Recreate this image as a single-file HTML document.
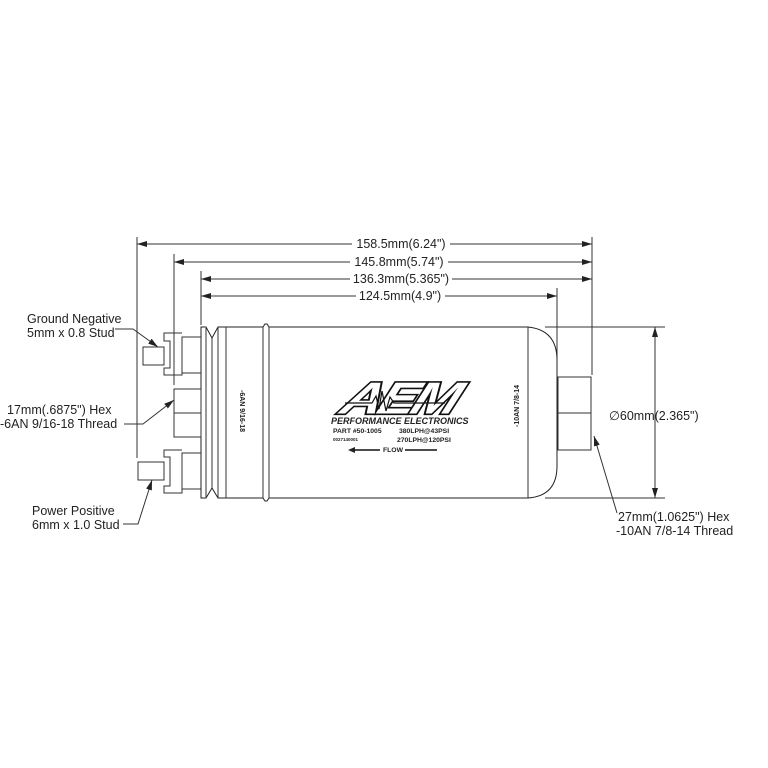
<!DOCTYPE html>
<html><head><style>body{margin:0;background:#fff}svg{display:block}</style></head><body>
<svg width="768" height="768" viewBox="0 0 768 768" xmlns="http://www.w3.org/2000/svg" font-family="Liberation Sans, sans-serif">
<defs><marker id="a" viewBox="0 0 10 6" refX="10" refY="3" markerWidth="10" markerHeight="6" orient="auto-start-reverse" markerUnits="userSpaceOnUse"><path d="M0,0L10,3L0,6z" fill="#222"/></marker></defs>
<g stroke="#333" stroke-width="1" fill="none">
<line x1="137" y1="237" x2="137" y2="458"/>
<line x1="174" y1="254" x2="174" y2="385"/>
<line x1="201" y1="271" x2="201" y2="325"/>
<line x1="557" y1="288" x2="557" y2="375"/>
<line x1="592" y1="237" x2="592" y2="375"/>
<line x1="545" y1="327" x2="665" y2="327"/>
<line x1="545" y1="498" x2="665" y2="498"/>
<line x1="137" y1="244" x2="352" y2="244" marker-start="url(#a)"/><line x1="450" y1="244" x2="592" y2="244" marker-end="url(#a)"/>
<line x1="174" y1="262" x2="350" y2="262" marker-start="url(#a)"/><line x1="448" y1="262" x2="592" y2="262" marker-end="url(#a)"/>
<line x1="201" y1="279" x2="350" y2="279" marker-start="url(#a)"/><line x1="452" y1="279" x2="592" y2="279" marker-end="url(#a)"/>
<line x1="201" y1="296" x2="356" y2="296" marker-start="url(#a)"/><line x1="445" y1="296" x2="557" y2="296" marker-end="url(#a)"/>
<line x1="655" y1="327" x2="655" y2="498" marker-start="url(#a)" marker-end="url(#a)"/>
<path d="M201,327 L206,327 L212,338 L218,327 L226,327 L263,327 L265,324 L267,324 L269,327 L528,327 L528,498 L269,498 L267,501 L265,501 L263,498 L226,498 L218,498 L212,488 L206,498 L201,498 Z" stroke="#222"/>
<line x1="528" y1="327" x2="528" y2="498"/>
<path d="M528,327 Q557,330 557,360 L557,466 Q557,496 528,498" stroke="#222"/>
<line x1="206" y1="328" x2="206" y2="497"/><line x1="212" y1="338" x2="212" y2="488"/>
<line x1="218" y1="327" x2="218" y2="498"/><line x1="226" y1="327" x2="226" y2="498"/>
<line x1="263" y1="327" x2="263" y2="498"/><line x1="269" y1="327" x2="269" y2="498"/>
<rect x="558" y="377" width="33" height="73"/><line x1="558" y1="413" x2="591" y2="413"/>
<path d="M201,337 L182,337 L182,375 L164,375 L164,368 L170,368 L170,341 L164,341 L164,333 L182,333"/>
<line x1="182" y1="373" x2="201" y2="373"/>
<rect x="143" y="347" width="21" height="18"/>
<rect x="174" y="389" width="27" height="48"/><line x1="174" y1="413" x2="201" y2="413"/>
<path d="M201,453 L182,453 L182,493 L164,493 L164,486 L170,486 L170,457 L164,457 L164,450 L182,450"/>
<line x1="182" y1="489" x2="201" y2="489"/>
<rect x="138" y="462" width="26" height="18"/>
<polyline points="115,329 133,329 158,347" marker-end="url(#a)"/>
<polyline points="124,424 143,424 174,400" marker-end="url(#a)"/>
<polyline points="123,524 138,524 152,480" marker-end="url(#a)"/>
<polyline points="617,513 594,436" marker-end="url(#a)"/>
</g>
<g fill="#222" font-size="12.5">
<text x="401" y="248" text-anchor="middle">158.5mm(6.24")</text>
<text x="399" y="266" text-anchor="middle">145.8mm(5.74")</text>
<text x="401" y="283" text-anchor="middle">136.3mm(5.365")</text>
<text x="400" y="300" text-anchor="middle">124.5mm(4.9")</text>
<text x="609" y="420">∅60mm(2.365")</text>
<text x="27" y="323">Ground Negative</text>
<text x="27" y="337">5mm x 0.8 Stud</text>
<text x="7" y="414">17mm(.6875") Hex</text>
<text x="0" y="428">-6AN 9/16-18 Thread</text>
<text x="32" y="515">Power Positive</text>
<text x="32" y="529">6mm x 1.0 Stud</text>
<text x="618" y="521">27mm(1.0625") Hex</text>
<text x="616" y="535">-10AN 7/8-14 Thread</text>
<g font-size="7" font-weight="bold">
<text transform="translate(240,390) rotate(90)">-6AN 9/16-18</text>
<text transform="translate(519,427) rotate(-90)">-10AN 7/8-14</text>
</g>
<text x="400" y="417" text-anchor="middle" font-size="56" font-weight="bold" font-style="italic" fill="#fff" stroke="#111" stroke-width="4" paint-order="stroke" transform="translate(400,400) skewX(-22) scale(1,0.8) translate(-400,-400)" letter-spacing="-4">AEM</text>
<polyline points="345,403 372,403 376,396 379,409 382,391 386,411 390,397 394,403 445,403" fill="none" stroke="#111" stroke-width="1.2"/>
<g font-weight="bold" font-style="italic"><text x="331" y="424" font-size="9">PERFORMANCE ELECTRONICS</text></g>
<g font-weight="bold" font-size="6.8">
<text x="333" y="433">PART #50-1005</text>
<text x="399" y="433">380LPH@43PSI</text>
<text x="333" y="441" font-size="4.5">0027140001</text>
<text x="397" y="442">270LPH@120PSI</text>
<text x="383" y="452">FLOW</text>
</g>
<line x1="352" y1="450" x2="380" y2="450" stroke="#111" stroke-width="1.5"/>
<path d="M348,450 L355,447 L355,453z"/>
<line x1="405" y1="450" x2="437" y2="450" stroke="#111" stroke-width="1.5"/>
</g>
</svg>
</body></html>
